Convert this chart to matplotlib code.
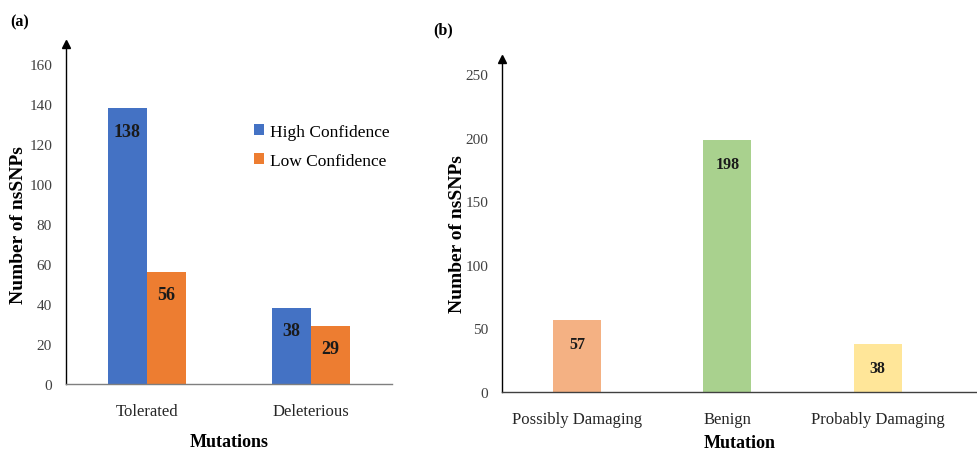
from matplotlib import pyplot as plt
import numpy as np

plt.rcParams['font.family'] = ['Liberation Serif', 'DejaVu Serif']

# panel (a) data
mutations = ["Tolerated", "Deleterious"]
high_conf = [138, 38]
low_conf = [56, 29]

# panel (b) data
classes = ["Possibly Damaging", "Benign", "Probably Damaging"]
counts = [57, 198, 38]

W, H = 977, 452
fig = plt.figure(figsize=(W / 100, H / 100), dpi=100)


def box(l, t, r, b):
    return [l / W, 1 - b / H, (r - l) / W, (b - t) / H]


def style_axes(ax):
    for s in ("top", "right"):
        ax.spines[s].set_visible(False)
    ax.spines["left"].set_color("black")
    ax.spines["left"].set_linewidth(1.0)
    ax.spines["bottom"].set_color("#7f7f7f")
    ax.spines["bottom"].set_linewidth(1.0)
    ax.tick_params(length=0)
    ax.tick_params(axis="y", pad=10, labelsize=11, labelcolor="#404040")
    ax.tick_params(axis="x", pad=14, labelsize=12, labelcolor="#262626")
    # arrow head on the y axis
    ax.plot(0, 1, marker="^", color="black", markersize=6,
            transform=ax.transAxes, clip_on=False)


# ---- (a) ----
ax1 = fig.add_axes(box(66, 45, 392, 385))
x = np.arange(len(mutations))
w = 0.238
b1 = ax1.bar(x - w / 2, high_conf, w, color="#4472C4", label="High Confidence")
b2 = ax1.bar(x + w / 2, low_conf, w, color="#ED7D31", label="Low Confidence")
ax1.set_xlim(-0.494, 1.494)
ax1.set_ylim(0, 170)
ax1.set_yticks(np.arange(0, 161, 20))
ax1.set_xticks(x, labels=mutations)
style_axes(ax1)
ax1.set_ylabel("Number of nsSNPs", fontsize=14, fontweight="bold")
# right edge of the rotated label sits at x = 27 px
ax1.yaxis.set_label_coords((27 - 66) / 326, (385 - 225) / 340)
ax1.set_xlabel("Mutations", fontsize=13, fontweight="bold", labelpad=10)
for bars in (b1, b2):
    for rect in bars:
        ax1.annotate(f"{int(rect.get_height())}",
                     (rect.get_x() + rect.get_width() / 2, rect.get_height()),
                     xytext=(0, -23), textcoords="offset pixels",
                     ha="center", va="center", fontsize=13,
                     fontweight="bold", color="#1a1a1a")
ax1.legend(loc="upper left", bbox_to_anchor=(254 / W, 1 - 125 / H),
           bbox_transform=fig.transFigure, frameon=False, fontsize=12.5,
           handlelength=0.6, handleheight=0.6, handletextpad=0.3,
           labelspacing=0.75, borderaxespad=0, borderpad=0)
fig.text(10 / W, 1 - 22 / H, "(a)", fontsize=11.5, fontweight="bold",
         va="center", ha="left")

# ---- (b) ----
ax2 = fig.add_axes(box(502, 60, 977, 393))
x2 = np.arange(len(classes))
bars = ax2.bar(x2, counts, 0.32, color=["#F4B183", "#A9D18E", "#FFE699"])
ax2.set_xlim(-0.498, 2.66)
ax2.set_ylim(0, 262)
ax2.set_yticks(np.arange(0, 251, 50))
ax2.set_xticks(x2, labels=classes)
style_axes(ax2)
ax2.spines["bottom"].set_color("#404040")
ax2.set_ylabel("Number of nsSNPs", fontsize=14, fontweight="bold")
ax2.yaxis.set_label_coords((466 - 502) / 475, (393 - 234) / 333)
ax2.set_xlabel("Mutation", fontsize=13, fontweight="bold", labelpad=5)
for rect in bars:
    ax2.annotate(f"{int(rect.get_height())}",
                 (rect.get_x() + rect.get_width() / 2, rect.get_height()),
                 xytext=(0, -24), textcoords="offset pixels",
                 ha="center", va="center", fontsize=11.5,
                 fontweight="bold", color="#1a1a1a")
fig.text(433 / W, 1 - 30 / H, "(b)", fontsize=11.5, fontweight="bold",
         va="center", ha="left")

fig.savefig("out.png", dpi=100)
